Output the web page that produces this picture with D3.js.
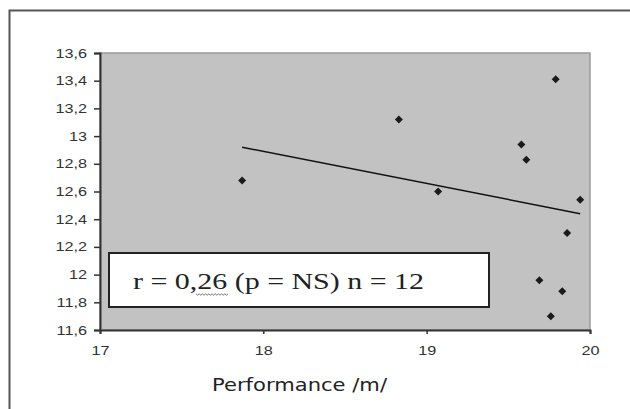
<!DOCTYPE html>
<html><head><meta charset="utf-8">
<script src="https://cdn.jsdelivr.net/npm/d3@7"></script>
<style>body{margin:0;background:#fff}svg{display:block}</style>
</head><body>
<script>
const perfX = [17.87, 18.83, 19.79, 19.58, 19.61, 19.07, 19.94, 19.86, 19.69, 19.83, 19.76];
const valY  = [12.68, 13.12, 13.41, 12.94, 12.83, 12.60, 12.54, 12.30, 11.96, 11.88, 11.70];
const trendX = [17.87, 19.94];
const trendY = [12.92, 12.44];
const xTicks = [17, 18, 19, 20];
const yTicks = [11.6, 11.8, 12, 12.2, 12.4, 12.6, 12.8, 13, 13.2, 13.4, 13.6];
const xTitle = "Performance /m/";
const boxText = "r = 0,26 (p = NS) n = 12";

const W = 630, H = 409;
const svg = d3.select("body").append("svg").attr("width", W).attr("height", H);
svg.append("rect").attr("x", 9.5).attr("y", 10.5).attr("width", 640).attr("height", 420)
  .attr("fill", "#fff").attr("stroke", "#555").attr("stroke-width", 2);

const L = 100, R = 590, T = 53, B = 330;
const x = d3.scaleLinear().domain([17, 20]).range([L, R]);
const y = d3.scaleLinear().domain([11.6, 13.6]).range([B, T]);

svg.append("rect").attr("x", L).attr("y", T).attr("width", R - L).attr("height", B - T)
  .attr("fill", "#c2c2c2").attr("stroke", "#9a9a9a").attr("stroke-width", 1.5);

const fmt = d => String(d).replace(".", ",");
const yAx = svg.append("g").attr("transform", `translate(${L},0)`)
  .call(d3.axisLeft(y).tickValues(yTicks).tickFormat(fmt).tickSize(6).tickPadding(7));
const xAx = svg.append("g").attr("transform", `translate(0,${B})`)
  .call(d3.axisBottom(x).tickValues(xTicks).tickFormat(fmt).tickSize(4).tickPadding(12));
[yAx, xAx].forEach(g => {
  g.selectAll("path").attr("stroke", "#333").attr("stroke-width", 2);
  g.selectAll("line").attr("stroke", "#333").attr("stroke-width", 1.5);
  g.selectAll("text").attr("font-family", "Arial, 'Liberation Sans', sans-serif")
    .attr("font-size", 12.5).attr("fill", "#333")
    .each(function () {
      const t = d3.select(this);
      const tx = +t.attr("x") || 0;
      t.attr("x", 0).attr("transform", `translate(${tx},0) scale(1.3,1)`);
    });
});

svg.append("text").attr("x", 212).attr("y", 391)
  .attr("font-family", "'DejaVu Sans', Verdana, sans-serif").attr("font-size", 18)
  .attr("textLength", 175).attr("lengthAdjust", "spacingAndGlyphs")
  .attr("fill", "#222").text(xTitle);

// trend line
svg.append("path").datum(trendX.map((d, i) => [d, trendY[i]]))
  .attr("d", d3.line().x(d => x(d[0])).y(d => y(d[1])))
  .attr("stroke", "#111").attr("stroke-width", 1.5).attr("fill", "none");

// points
const s = 4;
svg.append("g").selectAll("path").data(perfX.map((d, i) => [d, valY[i]])).join("path")
  .attr("d", `M0,${-s}L${s},0L0,${s}L${-s},0Z`)
  .attr("transform", d => `translate(${x(d[0])},${y(d[1])})`)
  .attr("fill", "#1a1a1a");

// text box
svg.append("rect").attr("x", 109).attr("y", 253).attr("width", 380).attr("height", 54)
  .attr("fill", "#fff").attr("stroke", "#222").attr("stroke-width", 2);
svg.append("text").attr("x", 133).attr("y", 289)
  .attr("font-family", "'Liberation Serif', 'Times New Roman', serif").attr("font-size", 24)
  .attr("textLength", 291).attr("lengthAdjust", "spacingAndGlyphs")
  .attr("fill", "#222").text(boxText);
// spell-check squiggle under "26"
const sq = [];
for (let i = 0; i <= 20; i++) sq.push([196 + i * 1.6, 294 + (i % 2 ? 1.2 : -0.2)]);
svg.append("path").attr("d", d3.line()(sq)).attr("stroke", "#555").attr("fill", "none").attr("stroke-width", 0.8);
</script>
</body></html>
